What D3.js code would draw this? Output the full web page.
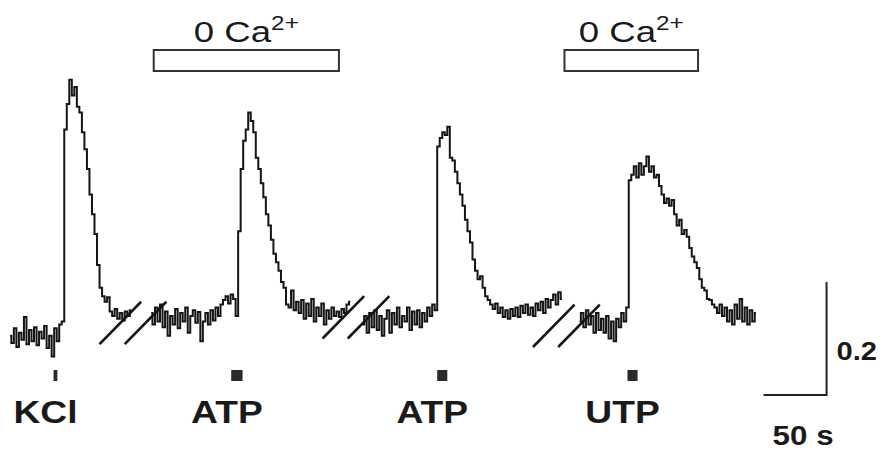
<!DOCTYPE html>
<html>
<head>
<meta charset="utf-8">
<script src="https://cdn.jsdelivr.net/npm/d3@7"></script>
<style>
  body { margin: 0; background: #fff; }
  text { font-family: "Liberation Sans", Arial, sans-serif; fill: #1a1a1a; }
</style>
</head>
<body>
<div id="chart"></div>
<script>
var width = 886, height = 452;

// sampling interval of the recording (s)
var dt = 2;

// start time of each trace piece (s), pieces are split by the // breaks
var segStart = [8, 120, 288, 460];

// fura-2 ratio, one value every dt seconds
var kclTrace = [0.405,0.392,0.418,0.385,0.410,0.398,0.438,0.390,0.415,0.395,0.420,0.388,0.412,0.400,0.422,0.383,0.405,0.368,0.418,0.395,0.425,
  0.430,0.770,0.815,0.858,0.830,0.845,0.810,0.800,0.765,0.735,0.700,0.655,0.620,0.585,0.530,0.490,0.475,0.465,0.473,0.448,
  0.440,0.452,0.435,0.445,0.432,0.448,0.440,0.450];

var atp1Trace = [0.445,0.425,0.455,0.430,0.460,0.420,0.448,0.405,0.440,0.425,0.452,0.418,0.445,0.430,0.455,0.410,0.440,0.450,0.428,0.447,
  0.395,0.430,0.445,0.425,0.450,0.432,0.455,0.440,0.460,0.468,0.475,0.462,0.478,0.470,0.440,
  0.590,0.700,0.750,0.770,0.800,0.785,0.765,0.720,0.700,0.675,0.650,0.620,0.600,0.575,0.550,0.535,0.520,0.500,0.490,0.460,0.455,
  0.485,0.450,0.465,0.445,0.468,0.435,0.462,0.440,0.470,0.430,0.455,0.440,0.462,0.425,0.450,0.435,0.455,0.440,0.448,0.438,0.452,0.445,0.460,0.465];

var atp2Trace = [0.425,0.440,0.410,0.445,0.420,0.450,0.415,0.440,0.405,0.435,0.450,0.410,0.445,0.425,0.455,0.420,0.440,0.430,0.455,0.415,
  0.448,0.425,0.450,0.420,0.445,0.430,0.455,0.440,0.460,0.450,
  0.740,0.755,0.765,0.760,0.775,0.720,0.715,0.695,0.675,0.655,0.635,0.610,0.590,0.570,0.540,0.520,0.505,0.510,0.490,0.475,0.468,
  0.460,0.452,0.462,0.445,0.455,0.438,0.450,0.435,0.452,0.440,0.455,0.438,0.458,0.445,0.460,0.442,0.455,0.440,0.462,0.450,0.465,
  0.445,0.470,0.455,0.468,0.478,0.460,0.482,0.470];

var utpTrace = [0.430,0.445,0.420,0.450,0.425,0.440,0.410,0.445,0.415,0.435,0.410,0.440,0.400,0.430,0.395,0.435,0.420,0.445,0.430,0.455,
  0.680,0.690,0.705,0.685,0.710,0.690,0.705,0.722,0.695,0.705,0.685,0.690,0.670,0.655,0.640,0.648,0.635,0.645,0.620,0.600,0.610,
  0.585,0.592,0.580,0.560,0.545,0.535,0.525,0.505,0.490,0.485,0.470,0.468,0.460,0.455,0.445,0.460,0.440,0.455,0.430,0.450,
  0.425,0.460,0.435,0.470,0.430,0.455,0.425,0.450,0.430,0.445];

var traces = [kclTrace, atp1Trace, atp2Trace, utpTrace];

// agonist applications
var stimNames = ["KCl", "ATP", "ATP", "UTP"];
var stimTime = [44, 188, 351, 502];
var stimDur = [3, 9, 8, 8];

// 0 Ca2+ periods (s)
var zeroCaStart = [122, 448];
var zeroCaEnd = [269, 554];

// time breaks: lower end of the first stroke
var breakTime = [79, 256, 423];
var breakValue = [0.39, 0.40, 0.385];

// scale bar
var barTime = 50, barRatio = 0.2;
var barEnd = 656, barBase = 0.3;

var svg = d3.select("#chart")
  .append("svg")
    .attr("width", width)
    .attr("height", height);

var x = d3.scaleLinear()
  .domain([0, 700])
  .range([0, 882]);

var y = d3.scaleLinear()
  .domain([0.3, 0.5])
  .range([395, 282]);

var line = d3.line()
  .curve(d3.curveStep)
  .x(function(d) { return x(d.t); })
  .y(function(d) { return y(d.v); });

// the traces
traces.forEach(function(tr, k) {
  var pts = tr.map(function(v, i) { return {t: segStart[k] + i * dt, v: v}; });
  svg.append("path")
    .datum(pts)
    .attr("fill", "none")
    .attr("stroke", "#151515")
    .attr("stroke-width", 2)
    .attr("d", line);
});

// break marks  //
breakTime.forEach(function(t, i) {
  [0, 20].forEach(function(off) {
    svg.append("line")
      .attr("x1", x(t + off))
      .attr("y1", y(breakValue[i]))
      .attr("x2", x(t + off + 33))
      .attr("y2", y(breakValue[i] + 0.075))
      .attr("stroke", "#151515")
      .attr("stroke-width", 2.6);
  });
});

// stimulus squares + names
stimTime.forEach(function(t, i) {
  svg.append("rect")
    .attr("x", x(t) - (x(stimDur[i]) - x(0)) / 2)
    .attr("y", 370)
    .attr("width", x(stimDur[i]) - x(0))
    .attr("height", 11)
    .attr("fill", "#2a2a2a");

  svg.append("text")
    .attr("transform", "translate(" + (x(t) - 10) + ",423) scale(1.2,1)")
    .style("text-anchor", "middle")
    .style("font-size", "31px")
    .style("font-weight", "bold")
    .text(stimNames[i]);
});

// 0 Ca2+ boxes
zeroCaStart.forEach(function(s, i) {
  svg.append("rect")
    .attr("x", x(s))
    .attr("y", 50)
    .attr("width", x(zeroCaEnd[i]) - x(s))
    .attr("height", 21)
    .attr("fill", "#fff")
    .attr("stroke", "#333")
    .attr("stroke-width", 2);

  var lab = svg.append("text")
    .attr("transform", "translate(" + x((s + zeroCaEnd[i]) / 2) + ",42) scale(1.22,1)")
    .style("text-anchor", "middle")
    .style("font-size", "30px");
  lab.append("tspan").text("0 Ca");
  lab.append("tspan")
    .attr("dy", -12)
    .style("font-size", "20px")
    .text("2+");
});

// scale bar
svg.append("path")
  .attr("d", "M" + x(barEnd - barTime) + "," + y(barBase) +
             "H" + x(barEnd) +
             "V" + y(barBase + barRatio))
  .attr("fill", "none")
  .attr("stroke", "#222")
  .attr("stroke-width", 2);

svg.append("text")
  .attr("transform", "translate(" + (x(barEnd) + 10) + "," + (y(barBase + barRatio / 2) + 21) + ") scale(1.12,1)")
  .style("font-size", "26px")
  .style("font-weight", "bold")
  .text(barRatio);

svg.append("text")
  .attr("transform", "translate(" + (x(barEnd - barTime / 2) + 8) + ",445) scale(1.12,1)")
  .style("text-anchor", "middle")
  .style("font-size", "28px")
  .style("font-weight", "bold")
  .text(barTime + " s");
</script>
</body>
</html>
